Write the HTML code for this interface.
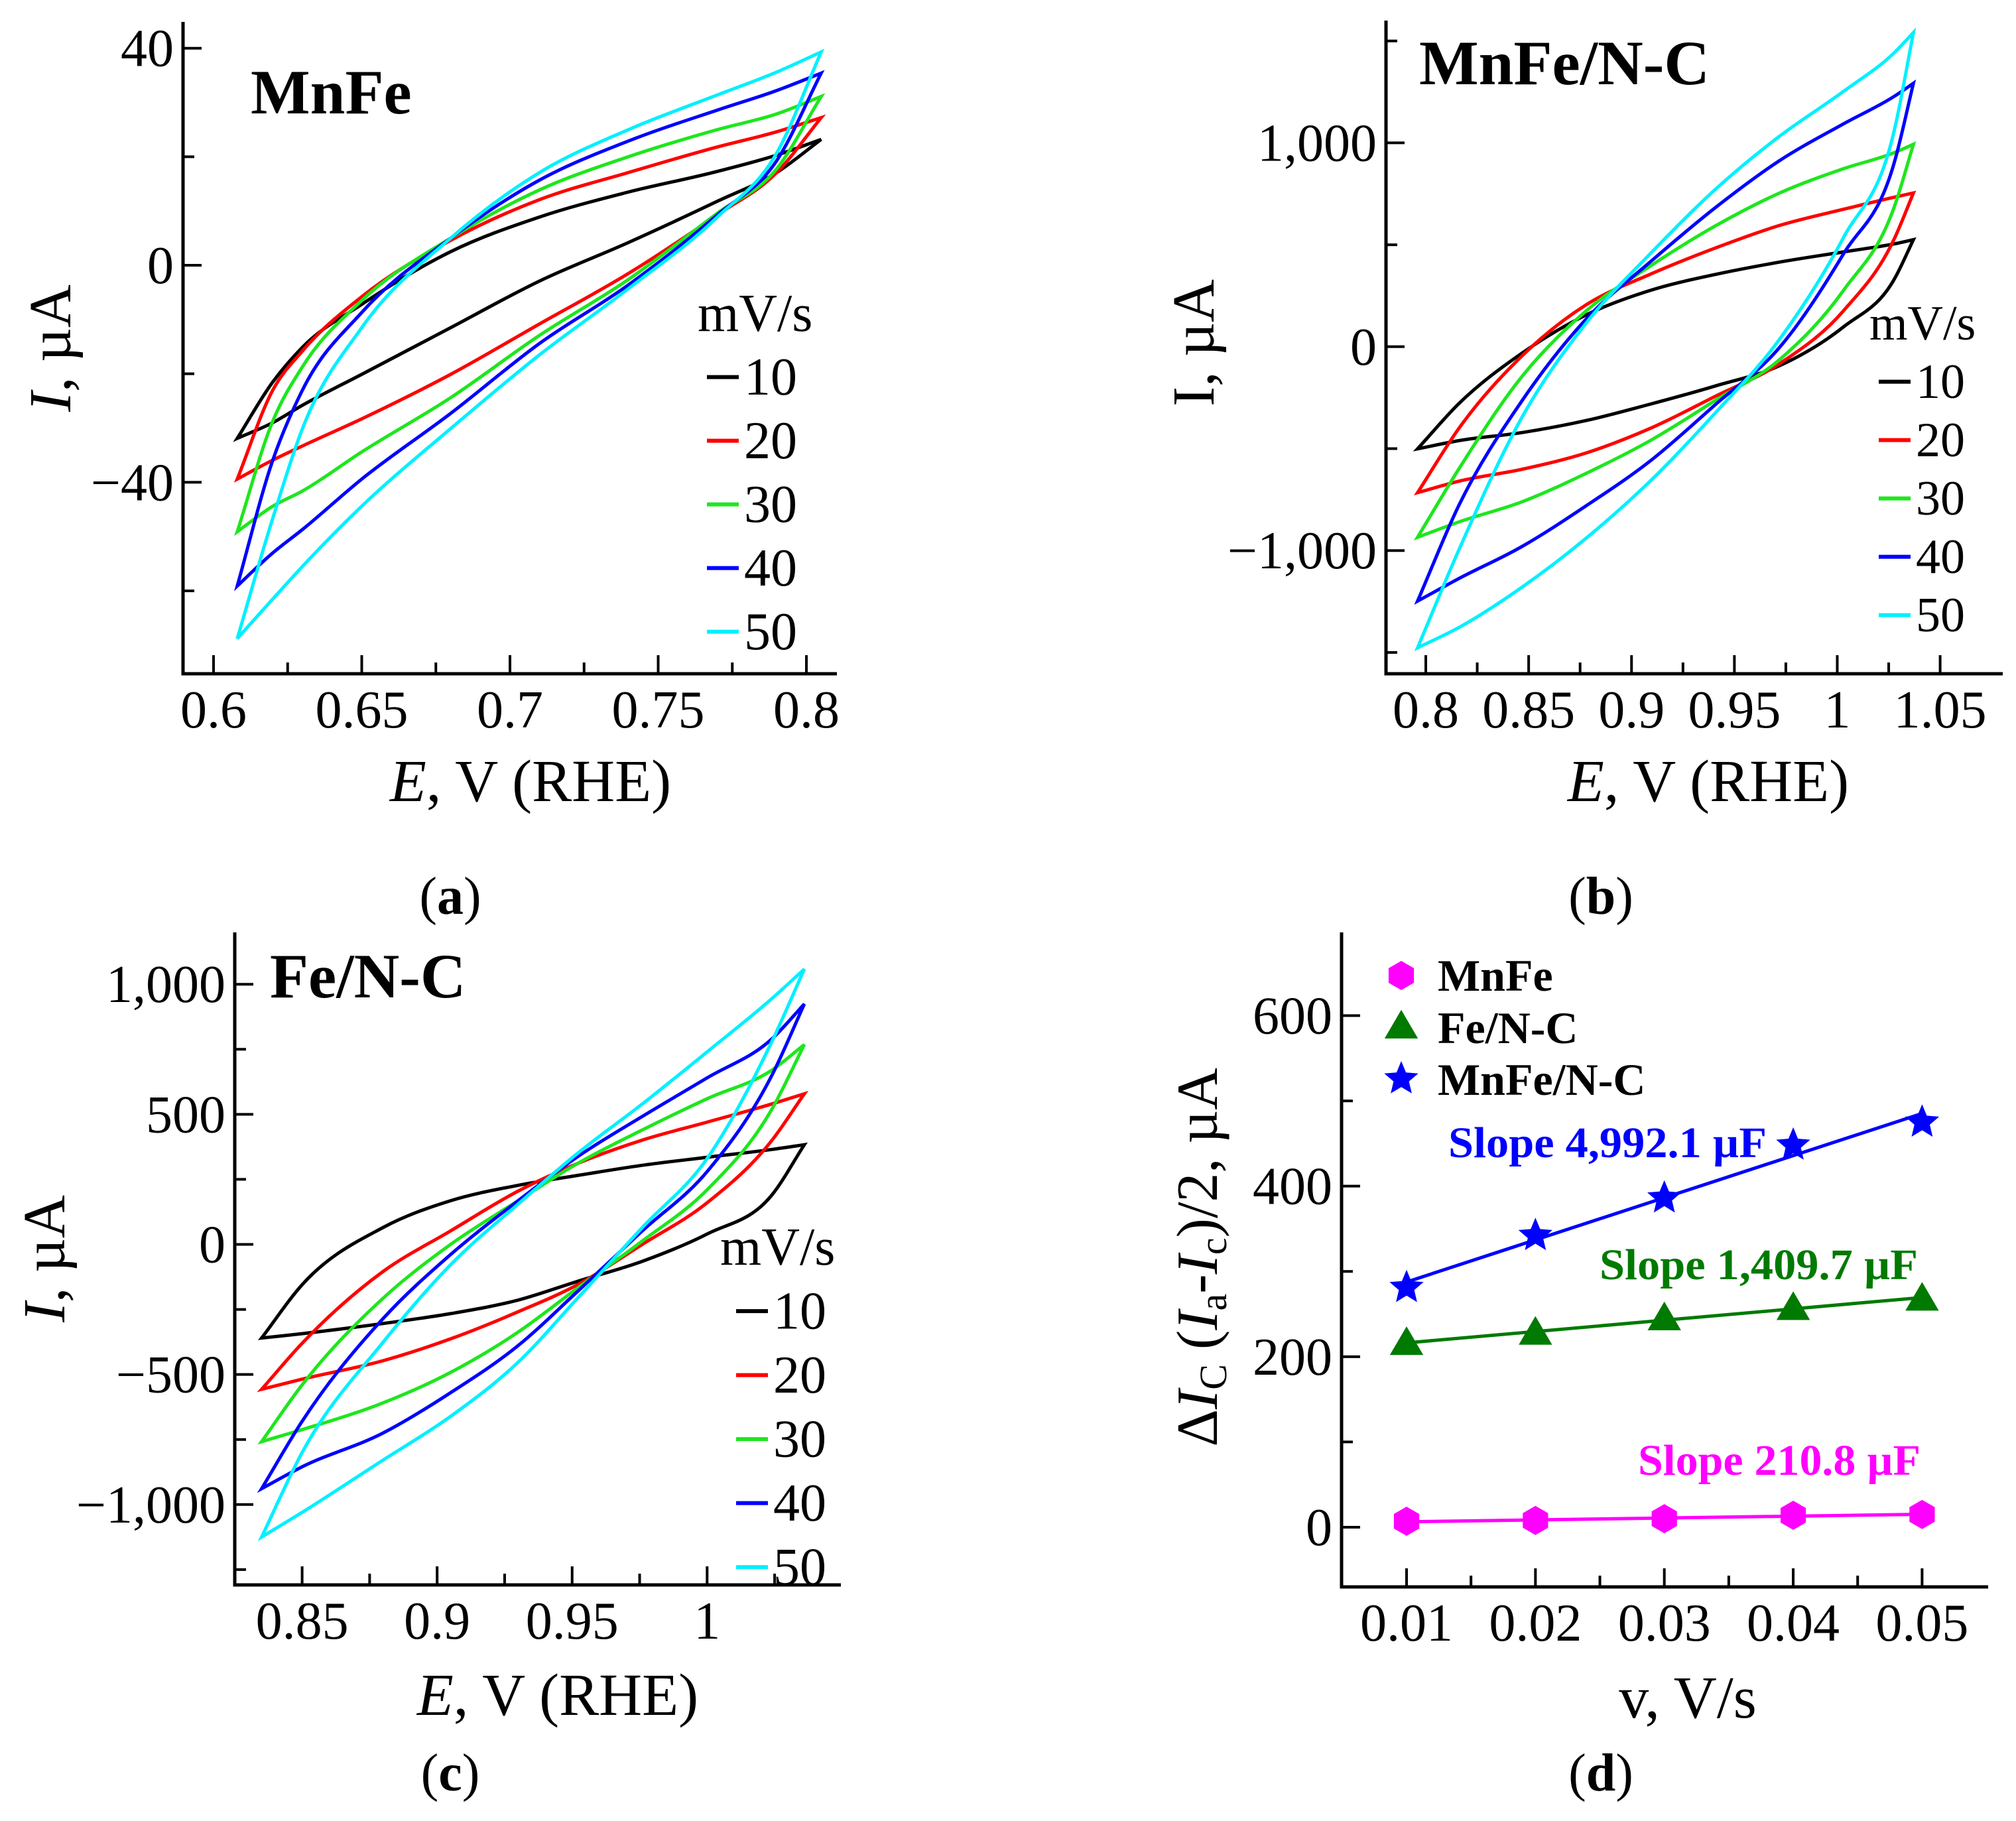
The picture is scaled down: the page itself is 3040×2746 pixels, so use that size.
<!DOCTYPE html>
<html><head><meta charset="utf-8">
<style>
html,body{margin:0;padding:0;background:#fff;}
svg{display:block;font-family:"Liberation Serif",serif;}
</style></head>
<body>
<svg id="fig" xmlns="http://www.w3.org/2000/svg" width="3040" height="2746" viewBox="0 0 3040 2746" font-family="Liberation Serif, serif">
<rect width="3040" height="2746" fill="#fff"/>
<g id="root" font-family="Liberation Serif, serif"></g>
</svg>
<script>
// ---------- shared ----------
const rateLabels = ["10","20","30","40","50"];
const rateColors = ["#000000","#ff0000","#1ee61e","#0000ff","#00f0ff"];

// ---------- panel (a) MnFe ----------
const potA = [0.608,0.62,0.63,0.65,0.68,0.71,0.74,0.77,0.79,0.805];
const a10up = [-31.9,-21.5,-15.1,-7.2,2.5,8.9,13.5,17.3,20.3,23.2];
const a10dn = [-31.9,-29,-25.8,-20.1,-11.5,-2.9,4.2,11.8,17.1,23.2];
const a20up = [-39.4,-23,-15.8,-5.8,4.6,12.1,17.1,21.8,24.6,27.2];
const a20dn = [-39.4,-35.9,-33.3,-28.3,-20.1,-10.8,-1.5,9.3,17.1,27.2];
const a30up = [-49.1,-28.7,-18.7,-6.5,5,13.9,20,25,27.9,31.1];
const a30dn = [-49.1,-44.4,-41.6,-34.4,-24.4,-12.9,-2.6,9.6,17.8,31.1];
const a40up = [-59.1,-35.9,-23,-8.7,5,15.7,22.9,28.6,32.2,35.4];
const a40dn = [-59.1,-53,-48.7,-39.4,-27.3,-14.4,-3.6,9.3,19.3,35.4];
const a50up = [-68.8,-46.6,-30.1,-11.5,5,17.1,25,31.4,35.6,39.3];
const a50dn = [-68.8,-61.5,-55.5,-44.4,-30.1,-16.5,-4.3,8.9,20.7,39.3];
const xTicksA = [0.6,0.65,0.7,0.75,0.8];
const xTickLabelsA = ["0.6","0.65","0.7","0.75","0.8"];
const yTicksA = [40,0,-40];
const yTickLabelsA = ["40","0","\u221240"];

// ---------- panel (b) MnFe/N-C ----------
const potB = [0.796,0.816,0.847,0.878,0.909,0.941,0.972,1.003,1.028,1.037];
const b10up = [-501,-280,-30,156,276,355,415,465,505,525];
const b10dn = [-501,-461,-421,-362,-282,-192,-93,97,336,525];
const b20up = [-716,-402,-43,206,355,485,595,674,734,754];
const b20dn = [-716,-660,-601,-521,-401,-242,-83,176,535,754];
const b30up = [-935,-601,-143,176,395,594,754,873,953,993];
const b30dn = [-935,-860,-760,-621,-461,-262,-63,276,694,993];
const b40up = [-1248,-780,-262,136,415,684,913,1093,1230,1292];
const b40dn = [-1248,-1138,-979,-780,-561,-282,-3,455,913,1292];
const b50up = [-1477,-999,-342,116,455,774,1033,1252,1445,1541];
const b50dn = [-1477,-1378,-1178,-939,-660,-322,37,535,1073,1541];
const xTicksB = [0.8,0.85,0.9,0.95,1.0,1.05];
const xTickLabelsB = ["0.8","0.85","0.9","0.95","1","1.05"];
const yTicksB = [1000,0,-1000];
const yTickLabelsB = ["1,000","0","\u22121,000"];

// ---------- panel (c) Fe/N-C ----------
const potC = [0.835,0.85,0.88,0.905,0.93,0.952,0.976,1.0,1.024,1.036];
const c10up = [-360,-155,65,168,227,265,304,335,365,383];
const c10dn = [-360,-343,-304,-266,-214,-142,-65,40,190,383];
const c20up = [-557,-380,-104,52,205,311,401,470,540,579];
const c20dn = [-557,-518,-447,-363,-259,-155,0,160,400,579];
const c30up = [-758,-540,-207,0,168,311,440,560,670,768];
const c30dn = [-758,-712,-609,-492,-337,-168,13,210,520,768];
const c40up = [-939,-680,-285,-39,168,337,492,640,790,924];
const c40dn = [-939,-855,-725,-570,-389,-181,52,280,650,924];
const c50up = [-1125,-800,-376,-78,155,350,540,740,945,1058];
const c50dn = [-1125,-1030,-829,-661,-453,-207,65,330,780,1058];
const xTicksC = [0.85,0.9,0.95,1.0];
const xTickLabelsC = ["0.85","0.9","0.95","1"];
const yTicksC = [1000,500,0,-500,-1000];
const yTickLabelsC = ["1,000","500","0","\u2212500","\u22121,000"];

// ---------- panel (d) capacitance ----------
const scanRates = [0.01,0.02,0.03,0.04,0.05];
const dIMnFe = [7,8,10,14,15];
const dIFeNC = [216,228,245,257,268];
const dIMnFeNC = [281,342,386,448,475];
const xTickLabelsD = ["0.01","0.02","0.03","0.04","0.05"];
const yTicksD = [600,400,200,0];
const yTickLabelsD = ["600","400","200","0"];
const slopeLabels = ["Slope 210.8 \u00b5F","Slope 1,409.7 \u00b5F","Slope 4,992.1 \u00b5F"];

const NS = "http://www.w3.org/2000/svg";
const root = document.getElementById("root");
function mk(tag, attrs, parent){
  const e = document.createElementNS(NS, tag);
  for (const k in attrs) e.setAttribute(k, attrs[k]);
  (parent||root).appendChild(e);
  return e;
}
function lin(d0,d1,p0,p1){ return v => p0 + (v-d0)*(p1-p0)/(d1-d0); }
function smoothX(pts, rev){
  const n = pts.length, d = [], m = [];
  for (let i=0;i<n-1;i++) d.push((pts[i+1][1]-pts[i][1])/(pts[i+1][0]-pts[i][0]));
  for (let i=0;i<n;i++){
    if (i==0) m.push(d[0]);
    else if (i==n-1) m.push(d[n-2]);
    else {
      const h0 = pts[i][0]-pts[i-1][0], h1 = pts[i+1][0]-pts[i][0];
      m.push((h0*d[i]+h1*d[i-1])/(h0+h1));
    }
  }
  const segs = [];
  for (let i=0;i<n-1;i++){
    const h = pts[i+1][0]-pts[i][0];
    segs.push([pts[i],[pts[i][0]+h/3,pts[i][1]+m[i]*h/3],[pts[i+1][0]-h/3,pts[i+1][1]-m[i+1]*h/3],pts[i+1]]);
  }
  const f = p => p[0].toFixed(1)+","+p[1].toFixed(1);
  let s = "";
  if (!rev){
    s = "M"+f(pts[0]);
    segs.forEach(g=>{ s += " C"+f(g[1])+" "+f(g[2])+" "+f(g[3]); });
  } else {
    segs.reverse().forEach(g=>{ s += " C"+f(g[2])+" "+f(g[1])+" "+f(g[0]); });
  }
  return s;
}
function axes(g, o){
  const ax = mk("path",{d:"M"+o.x0+","+o.top+" V"+o.y0+" H"+o.right,fill:"none",stroke:"#000","stroke-width":5},g);
  
  
  o.xMajor.forEach((v,i)=>{
    const x = o.sx(v);
    const t = mk("line",{x1:x,y1:o.y0,x2:x,y2:o.y0-28,stroke:"#000","stroke-width":4},g);
    
    
    const l = mk("text",{x:x,y:o.y0+81,"text-anchor":"middle","font-size":80},g);
    l.textContent = o.xLabels[i];
    
    
  });
  o.xMinor.forEach(v=>{
    const x = o.sx(v);
    const t = mk("line",{x1:x,y1:o.y0,x2:x,y2:o.y0-17,stroke:"#000","stroke-width":4},g);
    
    
  });
  o.yMajor.forEach((v,i)=>{
    const y = o.sy(v);
    const t = mk("line",{x1:o.x0,y1:y,x2:o.x0+28,y2:y,stroke:"#000","stroke-width":4},g);
    
    
    const l = mk("text",{x:o.x0-14,y:y+27,"text-anchor":"end","font-size":80},g);
    l.textContent = o.yLabels[i];
    
    
  });
  o.yMinor.forEach(v=>{
    const y = o.sy(v);
    const t = mk("line",{x1:o.x0,y1:y,x2:o.x0+17,y2:y,stroke:"#000","stroke-width":4},g);
    
    
  });
}
function cvPanel(g, o, pot, ups, dns){
  axes(g,o);
  for (let k=0;k<5;k++){
    const up = pot.map((e,i)=>[o.sx(e),o.sy(ups[k][i])]);
    const dn = pot.map((e,i)=>[o.sx(e),o.sy(dns[k][i])]);
    const d = smoothX(up,false) + " L" + dn[dn.length-1][0].toFixed(1)+","+dn[dn.length-1][1].toFixed(1) + smoothX(dn,true) + " Z";
    const p = mk("path",{d:d,fill:"none",stroke:rateColors[k],"stroke-width":5,"stroke-linejoin":"miter"},g);
    
    
  }
  const lt = mk("text",{x:o.legX,y:o.legY,"font-size":o.legFont},g);
  lt.textContent = "mV/s";
  
  
  for (let k=0;k<5;k++){
    const by = o.legY + o.legGap*(k+1);
    const ln = mk("line",{x1:o.dashX,y1:by-o.legFont*0.33,x2:o.dashX+48,y2:by-o.legFont*0.33,stroke:rateColors[k],"stroke-width":6},g);
    
    
    const tx = mk("text",{x:o.dashX+56,y:by,"font-size":o.legFont},g);
    tx.textContent = rateLabels[k];
    
    
  }
}
function range(a,b,s){ const r=[]; for(let v=a; v<=b+1e-9; v+=s) r.push(+v.toFixed(5)); return r; }

// ---------- build (a) ----------
const gA = mk("g",{});


const oA = {x0:276,y0:1016,top:33,right:1262,
  sx:lin(0.6,0.8,322,1216), sy:lin(0,40,400,72.7),
  xMajor:xTicksA, xLabels:xTickLabelsA, xMinor:range(0.625,0.775,0.05),
  yMajor:yTicksA, yLabels:yTickLabelsA, yMinor:[20,-20,-60],
  legX:1052,legY:499,legGap:96,legFont:80,dashX:1066};
cvPanel(gA,oA,potA,[a10up,a20up,a30up,a40up,a50up],[a10dn,a20dn,a30dn,a40dn,a50dn]);

// ---------- build (b) ----------
const gB = mk("g",{});


const oB = {x0:2090,y0:1016,top:31,right:3020,
  sx:lin(0.8,1.05,2150,2925.6), sy:lin(0,1000,522.8,215.4),
  xMajor:xTicksB, xLabels:xTickLabelsB, xMinor:range(0.825,1.025,0.05),
  yMajor:yTicksB, yLabels:yTickLabelsB, yMinor:[1500,500,-500,-1500],
  legX:2819,legY:512,legGap:88,legFont:74,dashX:2833};
cvPanel(gB,oB,potB,[b10up,b20up,b30up,b40up,b50up],[b10dn,b20dn,b30dn,b40dn,b50dn]);

// ---------- build (c) ----------
const gC = mk("g",{});


const oC = {x0:354,y0:2390,top:1406,right:1268,
  sx:lin(0.85,1.0,455.6,1066.3), sy:lin(0,1000,1876.5,1484.2),
  xMajor:xTicksC, xLabels:xTickLabelsC, xMinor:range(0.875,1.025,0.05),
  yMajor:yTicksC, yLabels:yTickLabelsC, yMinor:[750,250,-250,-750,-1250],
  legX:1086,legY:1907,legGap:96.5,legFont:80,dashX:1110};
cvPanel(gC,oC,potC,[c10up,c20up,c30up,c40up,c50up],[c10dn,c20dn,c30dn,c40dn,c50dn]);

// ---------- build (d) ----------
const gD = mk("g",{});


const oD = {x0:2023,y0:2393,top:1406,right:2998,
  sx:lin(0.01,0.05,2121,2898.4), sy:lin(0,600,2303,1531.5),
  xMajor:scanRates, xLabels:xTickLabelsD, xMinor:range(0.015,0.045,0.01),
  yMajor:yTicksD, yLabels:yTickLabelsD, yMinor:[500,300,100]};
axes(gD,oD);
function fit(xs,ys){
  const n=xs.length, mx=xs.reduce((a,b)=>a+b)/n, my=ys.reduce((a,b)=>a+b)/n;
  let sxy=0,sxx=0; for(let i=0;i<n;i++){sxy+=(xs[i]-mx)*(ys[i]-my); sxx+=(xs[i]-mx)**2;}
  const m=sxy/sxx; return [m, my-m*mx];
}
function hexagon(cx,cy,r){ let p=[]; for(let i=0;i<6;i++){const a=Math.PI/6+i*Math.PI/3; p.push((cx+r*Math.cos(a)).toFixed(1)+","+(cy+r*Math.sin(a)).toFixed(1));} return p.join(" "); }
function triangle(cx,cy,r){ return [[cx,cy-r*1.05],[cx+r*1.05,cy+r*0.75],[cx-r*1.05,cy+r*0.75]].map(p=>p[0].toFixed(1)+","+p[1].toFixed(1)).join(" "); }
function star(cx,cy,r){ let p=[]; for(let i=0;i<10;i++){const rr=i%2?r*0.45:r; const a=-Math.PI/2+i*Math.PI/5; p.push((cx+rr*Math.cos(a)).toFixed(1)+","+(cy+rr*Math.sin(a)).toFixed(1));} return p.join(" "); }
const seriesD = [
  {vals:dIMnFe,color:"#ff00ff",shape:hexagon,r:22,name:"mnfe"},
  {vals:dIFeNC,color:"#007a00",shape:triangle,r:24,name:"fe-nc"},
  {vals:dIMnFeNC,color:"#0000ff",shape:star,r:27,name:"mnfe-nc"}
];
seriesD.forEach(s=>{
  const [m,b] = fit(scanRates,s.vals);
  const x1=scanRates[0], x2=scanRates[scanRates.length-1];
  const ln = mk("line",{x1:oD.sx(x1),y1:oD.sy(m*x1+b),x2:oD.sx(x2),y2:oD.sy(m*x2+b),stroke:s.color,"stroke-width":5},gD);
  
  
  scanRates.forEach((v,i)=>{
    const mkr = mk("polygon",{points:s.shape(oD.sx(v),oD.sy(s.vals[i]),s.r),fill:s.color},gD);
    
    
  });
});
const legD = [["MnFe",1471,1494],["Fe/N-C",1548,1573],["MnFe/N-C",1627,1651]];
legD.forEach((e,i)=>{
  const s = seriesD[i];
  const mkr = mk("polygon",{points:s.shape(2113,e[1],s.r),fill:s.color},gD);
  
  
  const t = mk("text",{x:2168,y:e[2],"font-size":68,"font-weight":"bold"},gD);
  t.textContent = e[0];
  
  
});
const slopePos = [[2470,2224,"#ff00ff",426],[2412,1929,"#007a00",480],[2184,1745,"#0000ff",480]];
slopePos.forEach((p,i)=>{
  const t = mk("text",{x:p[0],y:p[1],"font-size":66,"font-weight":"bold",fill:p[2],textLength:p[3],lengthAdjust:"spacingAndGlyphs"},gD);
  t.textContent = slopeLabels[i];
  
  
});
</script>

<svg style="position:absolute;left:0;top:0" width="3040" height="2746" viewBox="0 0 3040 2746" font-family="Liberation Serif, serif">
  <text x="378" y="171" font-size="95" font-weight="bold">MnFe</text>
  <text x="2140" y="127" font-size="95" font-weight="bold">MnFe/N-C</text>
  <text x="407" y="1504" font-size="95" font-weight="bold">Fe/N-C</text>

  <text x="800" y="1208" font-size="90" text-anchor="middle"><tspan font-style="italic">E</tspan>, V (RHE)</text>
  <text x="2576" y="1208" font-size="90" text-anchor="middle"><tspan font-style="italic">E</tspan>, V (RHE)</text>
  <text x="841" y="2586" font-size="90" text-anchor="middle"><tspan font-style="italic">E</tspan>, V (RHE)</text>
  <text x="2545" y="2590" font-size="90" text-anchor="middle">v, V/s</text>

  <text transform="translate(106,525) rotate(-90)" font-size="90" text-anchor="middle"><tspan font-style="italic">I</tspan>, µA</text>
  <text transform="translate(1830,517) rotate(-90)" font-size="90" text-anchor="middle">I, µA</text>
  <text transform="translate(97,1898) rotate(-90)" font-size="90" text-anchor="middle"><tspan font-style="italic">I</tspan>, µA</text>
  <text transform="translate(1835,1896) rotate(-90)" font-size="88" text-anchor="middle">Δ<tspan font-style="italic">I</tspan><tspan font-size="58" dy="14">C</tspan><tspan dy="-14"> (</tspan><tspan font-style="italic">I</tspan><tspan font-size="58" dy="14">a</tspan><tspan dy="-14">-</tspan><tspan font-style="italic">I</tspan><tspan font-size="58" dy="14">c</tspan><tspan dy="-14">)/2, µA</tspan></text>

  <text x="679" y="1378" font-size="80" text-anchor="middle">(<tspan font-weight="bold">a</tspan>)</text>
  <text x="2414" y="1378" font-size="80" text-anchor="middle">(<tspan font-weight="bold">b</tspan>)</text>
  <text x="679" y="2700" font-size="80" text-anchor="middle">(<tspan font-weight="bold">c</tspan>)</text>
  <text x="2414" y="2700" font-size="80" text-anchor="middle">(<tspan font-weight="bold">d</tspan>)</text>
</svg>
</body></html>
